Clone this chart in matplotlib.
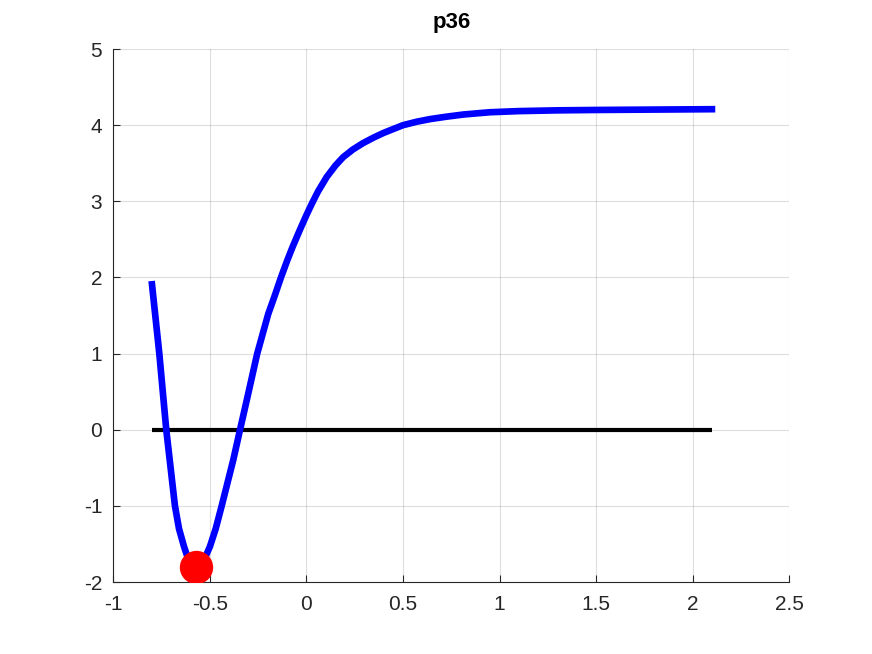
import matplotlib
matplotlib.use("Agg")
import matplotlib.pyplot as plt

# curve values
curve_x = [-0.80, -0.762, -0.726, -0.681, -0.66, -0.634, -0.62, -0.605, -0.59,
           -0.572, -0.555, -0.54, -0.52, -0.50, -0.47, -0.439, -0.379, -0.344,
           -0.301, -0.255, -0.198, -0.163, -0.132, -0.10, -0.072, -0.035, 0.0,
           0.03, 0.06, 0.105, 0.15, 0.19, 0.24, 0.294, 0.35, 0.398, 0.45, 0.50,
           0.57, 0.64, 0.72, 0.812, 0.88, 0.95, 1.10, 1.30, 1.50, 2.10]
curve_y = [1.91, 1.0, 0.0, -1.0, -1.30, -1.535, -1.64, -1.72, -1.77,
           -1.80, -1.78, -1.73, -1.65, -1.535, -1.30, -1.0, -0.396, 0.0,
           0.48, 1.0, 1.52, 1.77, 2.0, 2.22, 2.40, 2.62, 2.82,
           2.98, 3.13, 3.32, 3.47, 3.58, 3.68, 3.766, 3.84, 3.897, 3.95, 4.0,
           4.045, 4.08, 4.11, 4.14, 4.155, 4.17, 4.185, 4.195, 4.20, 4.21]

# zero line and minimum point
zero_x = [-0.80, 2.10]
zero_y = [0.0, 0.0]
min_x = [-0.572]
min_y = [-1.80]

x_ticks = [-1, -0.5, 0, 0.5, 1, 1.5, 2, 2.5]
x_labels = ["-1", "-0.5", "0", "0.5", "1", "1.5", "2", "2.5"]
y_ticks = [-2, -1, 0, 1, 2, 3, 4, 5]

plt.rcParams["font.family"] = ["Liberation Sans", "DejaVu Sans"]
plt.rcParams["axes.unicode_minus"] = False

fig = plt.figure(figsize=(8.72, 6.54), dpi=100)
ax = fig.add_axes([0.13, 0.11, 0.775, 0.815])

ax.plot(curve_x, curve_y, color="#0000ff", linewidth=4.8, solid_joinstyle="round", zorder=3)
ax.plot(zero_x, zero_y, color="black", linewidth=3, solid_capstyle="butt", zorder=2)
ax.plot(min_x, min_y, "o", color="#ff0000", markersize=24, markeredgewidth=0, zorder=4)

ax.set_xlim(-1, 2.5)
ax.set_ylim(-2, 5)
ax.set_xticks(x_ticks)
ax.set_xticklabels(x_labels)
ax.set_yticks(y_ticks)

ax.grid(True, color="#262626", alpha=0.15, linewidth=0.8)
ax.set_axisbelow(True)

for side in ["top", "right"]:
    ax.spines[side].set_visible(False)
for side in ["left", "bottom"]:
    ax.spines[side].set_color("#262626")
    ax.spines[side].set_linewidth(0.8)

ax.tick_params(direction="in", length=5, width=0.8, colors="#262626", labelsize=15)
ax.tick_params(axis="x", pad=9)
ax.tick_params(axis="y", pad=8)

ax.set_title("p36", fontsize=16, fontweight="bold", pad=15)

fig.savefig("out.png", dpi=100)
